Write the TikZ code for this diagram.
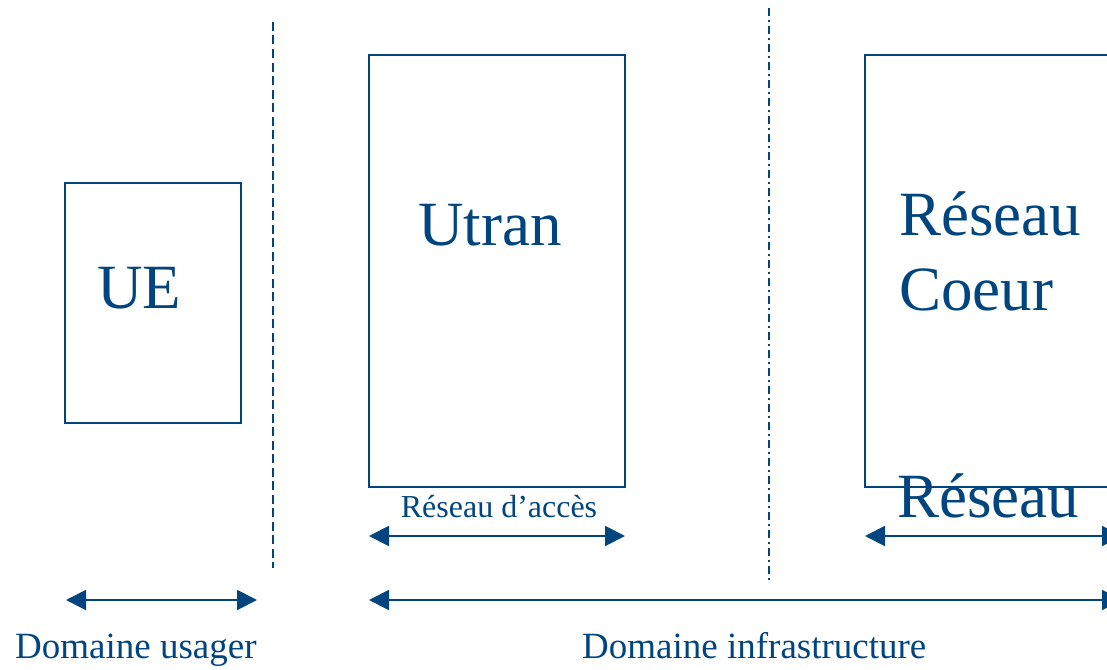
\documentclass[tikz,border=0pt]{standalone}
\usepackage{fontspec}
\setmainfont{Liberation Serif}
\usepackage{xcolor}
\usetikzlibrary{arrows.meta,positioning}
\definecolor{umtsblue}{RGB}{0,69,128}

\begin{document}
\begin{tikzpicture}[
  x=1pt, y=-1pt,
  every node/.style={inner sep=0pt, text=umtsblue},
  domainbox/.style={draw=umtsblue, line width=1.8pt},
  bigtext/.style={font=\fontsize{63}{75}\selectfont, anchor=base west, align=left},
  smalltext/.style={font=\fontsize{32}{38}\selectfont, anchor=base},
  domtext/.style={font=\fontsize{37}{44}\selectfont, anchor=base west},
  border/.style={draw=umtsblue, line width=2pt, dash pattern=on 9pt off 4.5pt},
  borderdot/.style={draw=umtsblue, line width=2pt, dash pattern=on 8pt off 4pt on 2pt off 4pt},
  span/.style={{Triangle[length=20pt,width=20pt]}-{Triangle[length=20pt,width=20pt]},
    draw=umtsblue, line width=2pt}
]
  \useasboundingbox (0,0) rectangle (1107,669);
  \clip (0,0) rectangle (1107,669);

  % the three blocks
  \node[domainbox, minimum width=176pt, minimum height=240pt] (ue) at (153,303) {};
  \node[domainbox, minimum width=256pt, minimum height=432pt] (utran) at (497,271) {};
  \node[domainbox, minimum width=300pt, minimum height=432pt] (coeur) at (1015,271) {};

  \node[bigtext] (ue-label) at (97,308) {UE};
  \node[bigtext] (utran-label) at (418,245) {Utran};
  \node[bigtext] (coeur-label) at (899,310) {Réseau\\Coeur};
  \node[bigtext] (reseau-label) at (897,517) {Réseau};
  \node[smalltext] (acces-label) at (499,517) {Réseau d’accès};

  % domain borders
  \coordinate (sep1-top) at (273,22);
  \coordinate (sep1-bot) at (273,568);
  \coordinate (sep2-top) at (769,8);
  \coordinate (sep2-bot) at (769,583);
  \draw[border] (sep1-top) -- (sep1-bot);
  \draw[borderdot] (sep2-top) -- (sep2-bot);

  % extents
  \coordinate (acces-w) at (369,536);
  \coordinate (acces-e) at (625,536);
  \coordinate (coeur-w) at (865,536);
  \coordinate (coeur-e) at (1122,536);
  \coordinate (usager-w) at (66,600);
  \coordinate (usager-e) at (257,600);
  \coordinate (infra-w) at (369,600);
  \coordinate (infra-e) at (1122,600);
  \draw[span] (acces-w) -- (acces-e);
  \draw[span] (coeur-w) -- (coeur-e);
  \draw[span] (usager-w) -- (usager-e);
  \draw[span] (infra-w) -- (infra-e);

  \node[domtext] (usager-label) at (15,658) {Domaine usager};
  \node[domtext] (infra-label) at (582,658) {Domaine infrastructure};
\end{tikzpicture}
\end{document}
